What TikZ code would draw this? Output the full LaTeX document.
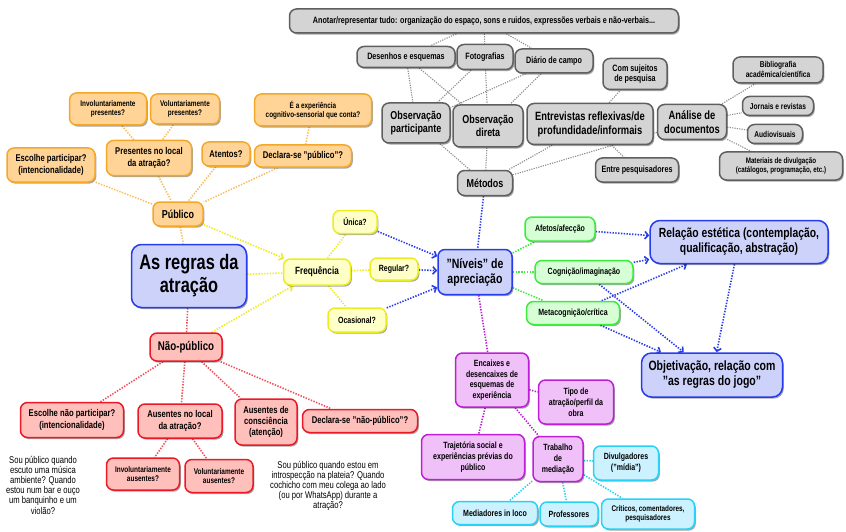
\documentclass[tikz,border=0pt]{standalone}
\usepackage{fontspec}
\setmainfont{Liberation Sans}[FakeStretch=0.78]
\usetikzlibrary{shadows,arrows.meta,backgrounds}
\definecolor{orB}{RGB}{245,168,40}
\definecolor{orF}{RGB}{255,212,150}
\definecolor{orL}{RGB}{248,190,100}
\definecolor{ylB}{RGB}{236,236,30}
\definecolor{ylF}{RGB}{255,255,200}
\definecolor{blB}{RGB}{40,60,235}
\definecolor{blF}{RGB}{205,210,250}
\definecolor{grB}{RGB}{60,235,60}
\definecolor{grF}{RGB}{214,255,214}
\definecolor{gyB}{RGB}{95,95,95}
\definecolor{gyF}{RGB}{212,212,212}
\definecolor{gyL}{RGB}{140,140,140}
\definecolor{rdB}{RGB}{235,25,40}
\definecolor{rdF}{RGB}{255,192,188}
\definecolor{rdL}{RGB}{240,80,90}
\definecolor{puB}{RGB}{190,30,215}
\definecolor{puF}{RGB}{240,192,248}
\definecolor{cyB}{RGB}{40,210,245}
\definecolor{cyF}{RGB}{205,242,255}
\tikzset{
  box/.style={draw, rounded corners=7pt, line width=1.5pt, align=center, inner sep=1pt,
    drop shadow={shadow xshift=1.3pt, shadow yshift=-1.6pt, opacity=0.35, fill=black}},
  fs/.style 2 args={font=\bfseries\fontsize{#1}{#2}\selectfont},
  rs/.style 2 args={font=\fontsize{#1}{#2}\selectfont},
  sz/.style 2 args={minimum width=#1pt, minimum height=#2pt},
  orn/.style={box, draw=orB, fill=orF},
  yln/.style={box, draw=ylB, fill=ylF},
  bln/.style={box, draw=blB, fill=blF},
  grn/.style={box, draw=grB, fill=grF},
  gyn/.style={box, draw=gyB, fill=gyF},
  rdn/.style={box, draw=rdB, fill=rdF},
  pun/.style={box, draw=puB, fill=puF},
  cyn/.style={box, draw=cyB, fill=cyF},
  lk/.style={line width=1.6pt, dash pattern=on 1.4pt off 1.4pt},
  glk/.style={line width=1.1pt, dash pattern=on 1.2pt off 1.2pt, draw=gyL},
  ar/.style={lk, -{Straight Barb[length=3.4pt,width=7.5pt]}}
}
\begin{document}
\begin{tikzpicture}[x=1pt,y=-1pt]
\useasboundingbox (0,0) rectangle (846,532);
% orange
\node[orn, fs={8.2}{9.2}, sz={77}{32}] (invp) at (108,109) {Involuntariamente\\presentes?};
\node[orn, fs={8.2}{9.2}, sz={69}{30}] (volp) at (185,109) {Voluntariamente\\presentes?};
\node[orn, fs={8.2}{9.2}, sz={117}{32}] (expc) at (313,110) {É a experiência\\cognitivo-sensorial que conta?};
\node[orn, fs={9.8}{11.5}, sz={85}{35}] (presl) at (149,158) {Presentes no local\\da atração?};
\node[orn, fs={9.8}{11.5}, sz={48}{24}] (aten) at (226,154) {Atentos?};
\node[orn, fs={9.8}{11.5}, sz={97}{22}] (decl) at (303,156) {Declara-se "público"?};
\node[orn, fs={9.8}{11.5}, sz={88}{34}] (escp) at (51,165) {Escolhe participar?\\(intencionalidade)};
\node[orn, fs={11.5}{13}, sz={50}{24}] (pub) at (178,214) {Público};
% yellow
\node[yln, fs={9}{10.5}, sz={44}{23}] (unica) at (355,222) {Única?};
\node[yln, fs={10.5}{12}, sz={67}{26}] (freq) at (317,272) {Frequência};
\node[yln, fs={9}{10.5}, sz={48}{22}] (regu) at (394,269) {Regular?};
\node[yln, fs={9}{10.5}, sz={58}{24}] (ocas) at (357,320) {Ocasional?};
% blue
\node[bln, fs={21}{23}, sz={115}{63}, rounded corners=10pt] (regras) at (189,276) {As regras da\\atração};
\node[bln, fs={13.5}{15}, sz={74}{45}] (niveis) at (475,272) {"Níveis" de\\apreciação};
\node[bln, fs={13.3}{15}, sz={178}{43}, rounded corners=10pt] (relest) at (739,242) {Relação estética (contemplação,\\qualificação, abstração)};
\node[bln, fs={13.5}{15}, sz={141}{44}, rounded corners=10pt] (objet) at (712,375) {Objetivação, relação com\\"as regras do jogo"};
% green
\node[grn, fs={9}{10.5}, sz={70}{24}] (afet) at (560,229) {Afetos/afecção};
\node[grn, fs={9}{10.5}, sz={98}{23}] (cogn) at (584,272) {Cognição/imaginação};
\node[grn, fs={9}{10.5}, sz={93}{23}] (meta) at (573,313) {Metacognição/crítica};
% gray
\node[gyn, fs={9.2}{10.5}, sz={389}{24}] (anot) at (484,21) {Anotar/representar tudo: organização do espaço, sons e ruidos, expressões verbais e não-verbais...};
\node[gyn, fs={9.2}{10.5}, sz={98}{21}] (dese) at (406,57) {Desenhos e esquemas};
\node[gyn, fs={9.2}{10.5}, sz={56}{25}] (foto) at (485,57) {Fotografias};
\node[gyn, fs={9.2}{10.5}, sz={78}{24}] (diar) at (554,61) {Diário de campo};
\node[gyn, fs={9.2}{10.5}, sz={64}{31}] (comsuj) at (635,74) {Com sujeitos\\de pesquisa};
\node[gyn, fs={11.5}{13.5}, sz={68}{40}] (obsp) at (416,123) {Observação\\participante};
\node[gyn, fs={11.5}{13.5}, sz={70}{42}] (obsd) at (488,126) {Observação\\direta};
\node[gyn, fs={12}{14}, sz={126}{41}] (entr) at (590,124) {Entrevistas reflexivas/de\\profundidade/informais};
\node[gyn, fs={12}{14}, sz={69}{35}] (anal) at (692,122) {Análise de\\documentos};
\node[gyn, fs={11.5}{13}, sz={55}{25}] (meto) at (485,183) {Métodos};
\node[gyn, fs={9.2}{10.5}, sz={83}{24}] (entrp) at (637,170) {Entre pesquisadores};
\node[gyn, fs={8.5}{10}, sz={90}{26}] (bibl) at (778,70) {Bibliografia\\acadêmica/científica};
\node[gyn, fs={8.5}{10}, sz={71}{19}] (jorn) at (778,106) {Jornais e revistas};
\node[gyn, fs={8.5}{10}, sz={55}{19}] (audi) at (775,134) {Audiovisuais};
\node[gyn, fs={8}{9.5}, sz={123}{28}] (mate) at (781,166) {Materiais de divulgação\\(catálogos, programação, etc.)};
% red
\node[rdn, fs={12.5}{14}, sz={72}{28}] (naop) at (186,347) {Não-público};
\node[rdn, fs={9.8}{11.5}, sz={103}{35}] (escn) at (72,420) {Escolhe não participar?\\(intencionalidade)};
\node[rdn, fs={9.8}{11.5}, sz={84}{34}] (ausl) at (180,421) {Ausentes no local\\da atração?};
\node[rdn, fs={9.8}{11.3}, sz={62}{46}] (ausc) at (266,422) {Ausentes de\\consciência\\(atenção)};
\node[rdn, fs={9.8}{11.5}, sz={115}{23}] (decn) at (360,421) {Declara-se "não-público"?};
\node[rdn, fs={8.3}{9.5}, sz={73}{32}] (inva) at (143,474) {Involuntariamente\\ausentes?};
\node[rdn, fs={8.3}{9.5}, sz={68}{33}] (vola) at (219,476) {Voluntariamente\\ausentes?};
% free texts
\node[rs={9.8}{10.2}, align=center, inner sep=0pt] (t1) at (43,485) {Sou público quando\\escuto uma música\\ambiente? Quando\\estou num bar e ouço\\um banquinho e um\\violão?};
\node[rs={9.8}{10.2}, align=center, inner sep=0pt] (t2) at (328,486) {Sou público quando estou em\\introspecção na plateia? Quando\\cochicho com meu colega ao lado\\(ou por WhatsApp) durante a\\atração?};
% purple
\node[pun, fs={9}{10.5}, sz={73}{54}] (enca) at (492,380) {Encaixes e\\desencaixes de\\esquemas de\\experiência};
\node[pun, fs={9}{10.8}, sz={75}{44}] (tipo) at (576,402) {Tipo de\\atração/perfil da\\obra};
\node[pun, fs={9}{10.8}, sz={103}{45}] (traj) at (473,457) {Trajetória social e\\experiências prévias do\\público};
\node[pun, fs={9}{10.8}, sz={50}{45}] (trab) at (558,459) {Trabalho\\de\\mediação};
% cyan
\node[cyn, fs={9}{10.8}, sz={65}{34}] (divu) at (626,463) {Divulgadores\\("mídia")};
\node[cyn, fs={9}{10.5}, sz={85}{23}] (medi) at (495,513) {Mediadores in loco};
\node[cyn, fs={9}{10.5}, sz={58}{24}] (prof) at (569,514) {Professores};
\node[cyn, fs={8.2}{9.5}, sz={93}{30}] (crit) at (648,514) {Críticos, comentadores,\\pesquisadores};

\begin{scope}[on background layer]
% orange links
\draw[lk, orL] (invp) -- (presl);
\draw[lk, orL] (volp) -- (presl);
\draw[lk, orL] (expc) -- (decl);
\draw[lk, orL] (presl) -- (pub);
\draw[lk, orL] (escp) -- (pub);
\draw[lk, orL] (aten) -- (pub);
\draw[lk, orL] (decl) -- (pub);
\draw[lk, orL] (pub) -- (regras);
% yellow links
\draw[lk, ylB] (regras) -- (freq);
\draw[ar, ylB] (pub) -- (freq);
\draw[ar, ylB] (naop) -- (freq);
\draw[lk, ylB] (freq) -- (unica);
\draw[lk, ylB] (freq) -- (regu);
\draw[lk, ylB] (freq) -- (ocas);
% blue links
\draw[ar, blB] (unica) -- (niveis);
\draw[ar, blB] (regu) -- (niveis);
\draw[ar, blB] (ocas) -- (niveis);
\draw[lk, blB] (meto) -- (niveis);
\draw[ar, blB] (afet) -- (relest);
\draw[ar, blB] (cogn) -- (relest);
\draw[ar, blB] (cogn) -- (objet);
\draw[ar, blB] (meta) -- (relest);
\draw[ar, blB] (meta) -- (objet);
\draw[ar, blB] (relest) -- (objet);
% green links
\draw[lk, grB] (niveis) -- (afet);
\draw[lk, grB] (niveis) -- (cogn);
\draw[lk, grB] (niveis) -- (meta);
% purple links
\draw[lk, puB] (niveis) -- (enca);
\draw[lk, puB] (enca) -- (tipo);
\draw[lk, puB] (enca) -- (traj);
\draw[lk, puB] (enca) -- (trab);
% cyan links
\draw[lk, cyB] (trab) -- (divu);
\draw[lk, cyB] (trab) -- (medi);
\draw[lk, cyB] (trab) -- (prof);
\draw[lk, cyB] (trab) -- (crit);
% red links
\draw[lk, rdL] (regras) -- (naop);
\draw[lk, rdL] (naop) -- (escn);
\draw[lk, rdL] (naop) -- (ausl);
\draw[lk, rdL] (naop) -- (ausc);
\draw[lk, rdL] (naop) -- (decn);
\draw[lk, rdL] (ausl) -- (inva);
\draw[lk, rdL] (ausl) -- (vola);
% gray links
\draw[glk] (anot) -- (dese);
\draw[glk] (anot) -- (foto);
\draw[glk] (anot) -- (diar);
\draw[glk] (dese) -- (obsp);
\draw[glk] (dese) -- (obsd);
\draw[glk] (foto) -- (obsp);
\draw[glk] (foto) -- (obsd);
\draw[glk] (diar) -- (obsp);
\draw[glk] (diar) -- (obsd);
\draw[glk] (obsp) -- (meto);
\draw[glk] (obsd) -- (meto);
\draw[glk] (entr) -- (meto);
\draw[glk] (anal) -- (meto);
\draw[glk] (entr) -- (comsuj);
\draw[glk] (entr) -- (entrp);
\draw[glk] (anal) -- (bibl);
\draw[glk] (anal) -- (jorn);
\draw[glk] (anal) -- (audi);
\draw[glk] (anal) -- (mate);
\end{scope}
\end{tikzpicture}
\end{document}
